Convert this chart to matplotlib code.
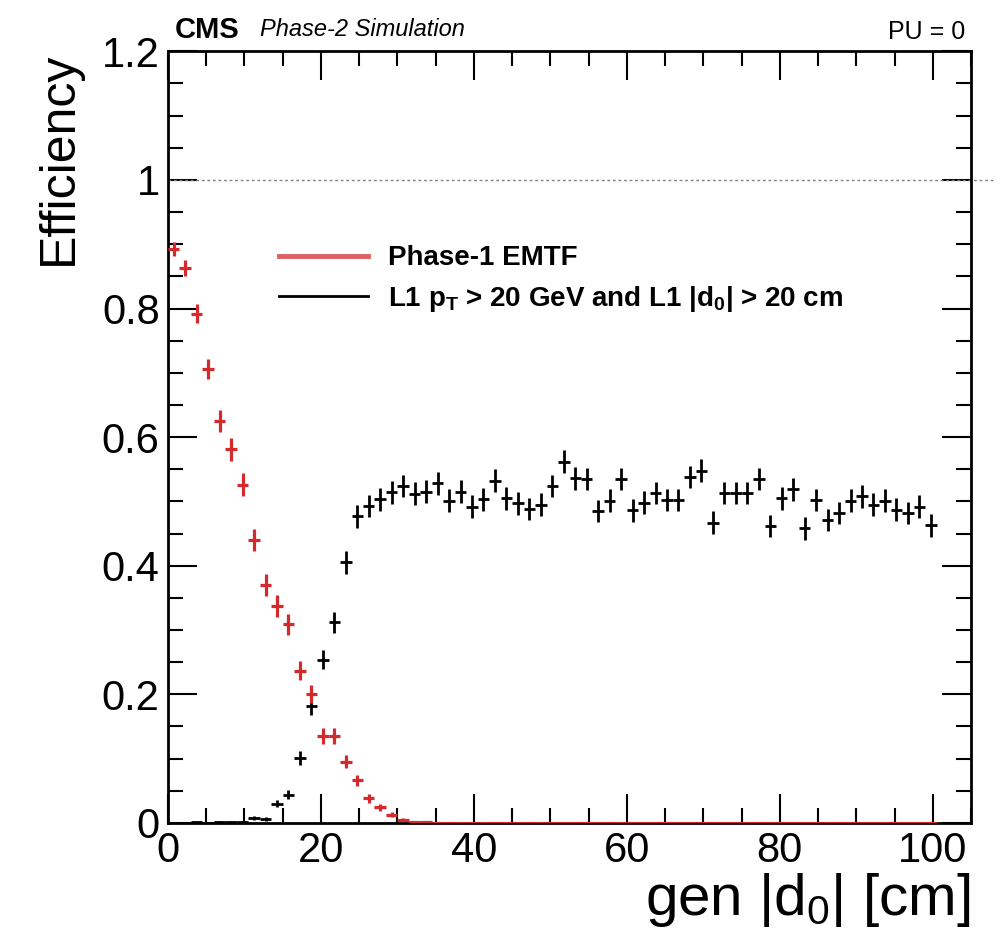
import numpy as np
import matplotlib
matplotlib.use("Agg")
from matplotlib import pyplot as plt
from matplotlib.lines import Line2D
from matplotlib.ticker import MultipleLocator

# binning in gen |d0| [cm]
bin_edges = np.linspace(0.0, 100.5, 68)

# Phase-1 EMTF efficiency per bin
emtf_eff = [0.893, 0.863, 0.792, 0.706, 0.625, 0.581, 0.526, 0.440, 0.370, 0.337,
            0.309, 0.237, 0.200, 0.135, 0.135, 0.095, 0.066, 0.038, 0.024, 0.013,
            0.005, 0.002, 0.001] + [0.0] * 44

# L1 pT > 20 GeV and L1 |d0| > 20 cm efficiency per bin
displaced_eff = [0.0, 0.0, 0.001, 0.0, 0.002, 0.002, 0.001, 0.008, 0.006, 0.030,
                 0.044, 0.101, 0.182, 0.254, 0.312, 0.405, 0.477, 0.493, 0.503, 0.514,
                 0.524, 0.512, 0.515, 0.528, 0.501, 0.515, 0.492, 0.503, 0.532, 0.505,
                 0.497, 0.488, 0.495, 0.524, 0.562, 0.536, 0.535, 0.485, 0.501, 0.535,
                 0.486, 0.498, 0.513, 0.502, 0.502, 0.538, 0.548, 0.467, 0.513, 0.513,
                 0.513, 0.535, 0.462, 0.505, 0.519, 0.458, 0.502, 0.471, 0.482, 0.501,
                 0.508, 0.495, 0.501, 0.487, 0.482, 0.492, 0.463]

n_per_bin = 800  # rough event count, only used for the binomial error bars

plt.rcParams['font.family'] = ['Liberation Sans', 'DejaVu Sans']
plt.rcParams['mathtext.fontset'] = 'custom'
plt.rcParams['mathtext.rm'] = 'Liberation Sans'
plt.rcParams['mathtext.bf'] = 'Liberation Sans:bold'
plt.rcParams['mathtext.it'] = 'Liberation Sans:italic'
plt.rcParams['mathtext.default'] = 'regular'

red = '#d42a2e'

x = 0.5 * (bin_edges[1:] + bin_edges[:-1])
xw = 0.5 * np.diff(bin_edges)
emtf = np.array(emtf_eff)
disp = np.array(displaced_eff)
emtf_err = np.sqrt(emtf * (1 - emtf) / n_per_bin)
disp_err = np.sqrt(disp * (1 - disp) / n_per_bin)

fig = plt.figure(figsize=(10, 9.33), dpi=100)
ax = fig.add_axes([0.168, 0.118, 0.803, 0.827])

ax.errorbar(x, disp, xerr=xw, yerr=disp_err, fmt='none', ecolor='black',
            elinewidth=2, capsize=0, zorder=3)
ax.errorbar(x, emtf, xerr=xw, yerr=emtf_err, fmt='none', ecolor=red,
            elinewidth=2.3, capsize=0, zorder=4)

ax.axhline(1.0, xmin=0, xmax=1.03, color='gray', ls=(0, (2, 2)), lw=1, clip_on=False)

ax.set_xlim(0, 105)
ax.set_ylim(0, 1.2)
ax.xaxis.set_major_locator(MultipleLocator(20))
ax.xaxis.set_minor_locator(MultipleLocator(5))
ax.yaxis.set_major_locator(MultipleLocator(0.2))
ax.yaxis.set_minor_locator(MultipleLocator(0.05))
ax.tick_params(which='both', direction='in', top=True, right=True, width=1.5)
ax.tick_params(which='major', length=21, labelsize=30, pad=6)
ax.tick_params(which='minor', length=11)
ax.yaxis.set_major_formatter(matplotlib.ticker.FuncFormatter(lambda v, p: '%g' % round(v, 2)))
for s in ax.spines.values():
    s.set_linewidth(2)

ax.set_ylabel('Efficiency', fontsize=36, loc='top')
ax.yaxis.set_label_coords(-0.107, 1.0)
ax.set_xlabel('gen |d$_0$| [cm]', fontsize=42, loc='right', va='top')
ax.xaxis.set_label_coords(1.0, -0.062)

handles = [Line2D([], [], color=red, lw=3.5, alpha=0.75),
           Line2D([], [], color='black', lw=2)]
ax.legend(handles, ['Phase-1 EMTF',
                    'L1 p$_{\\mathbf{T}}$ > 20 GeV and L1 |d$_{\\mathbf{0}}$| > 20 cm'],
          loc='upper left', bbox_to_anchor=(0.107, 0.781), frameon=False,
          prop={'weight': 'bold', 'size': 20}, handlelength=3.2, handletextpad=0.72,
          labelspacing=0.45)

fig.text(0.175, 0.968, 'CMS', fontsize=21, fontweight='bold', va='center')
fig.text(0.26, 0.968, 'Phase-2 Simulation', fontsize=17, style='italic', va='center')
fig.text(0.965, 0.966, 'PU = 0', fontsize=18, ha='right', va='center')

fig.savefig('out.png', dpi=100)
